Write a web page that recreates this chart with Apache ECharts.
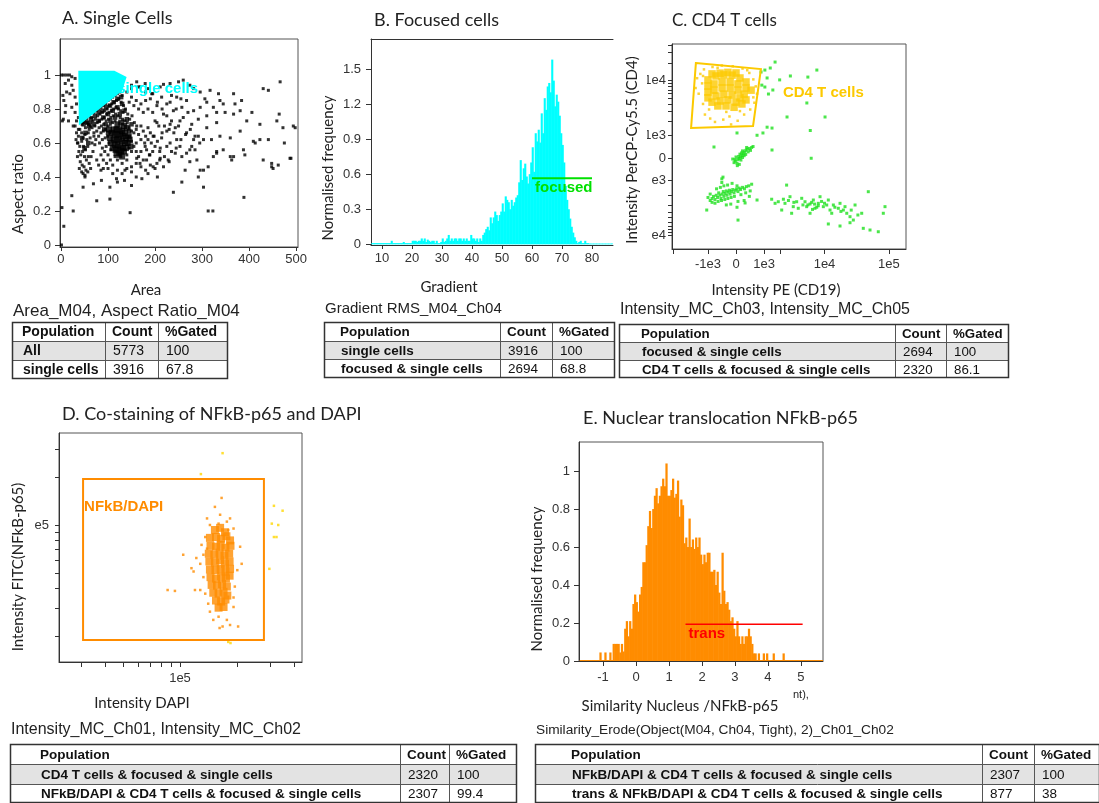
<!DOCTYPE html>
<html>
<head>
<meta charset="utf-8">
<title>Gating strategy – NFkB-p65 nuclear translocation</title>
<script src="https://cdn.jsdelivr.net/npm/echarts@6/dist/echarts.min.js"></script>
<style>
  html, body { margin: 0; padding: 0; background: #fff; }
  #chart { width: 1099px; height: 803px; }
</style>
</head>
<body>
<div id="chart"></div>
<script>
// ---------------- data ----------------

// A. Area vs aspect ratio of all objects
const areaRatio = [
  [1,1.0],[6,1.0],[12,1.0],[18,1.0],[23,0.99],[9,0.95],[16,0.97],[23,0.94],[30,0.98],[12,0.90],[19,0.89],[30,0.87],
  [26,0.91],[33,0.83],[23,0.81],[9,0.78],[30,0.78],[37,0.75],[16,0.73],[33,0.73],[26,0.70],[37,0.68],[5,0.74],[32,0.62],
  [35,0.60],[3,0.73],[6,0.85],[10,0.82],[4,0.88],
  [30,0.70],[33,0.66],[37,0.64],[40,0.68],[44,0.66],[47,0.63],[51,0.65],[55,0.62],[58,0.66],[62,0.63],[36,0.60],[40,0.58],
  [44,0.61],[48,0.58],[52,0.56],[57,0.58],[38,0.55],[42,0.53],[46,0.55],[50,0.52],[54,0.50],[41,0.49],[45,0.47],[49,0.46],
  [53,0.44],[47,0.42],[51,0.40],[57,0.43],[60,0.48],[64,0.52],[68,0.55],[72,0.59],[66,0.60],[70,0.64],[74,0.62],[62,0.70],
  [56,0.72],[48,0.72],[42,0.74],[35,0.52],[39,0.45],[44,0.43],[58,0.52],[63,0.45],[76,0.50],[80,0.47],[85,0.44],[90,0.45],
  [45,0.71],[50,0.73],[55,0.74],[60,0.76],[65,0.75],[70,0.78],[75,0.79],[80,0.80],[85,0.81],[90,0.82],[95,0.83],[100,0.85],
  [105,0.86],[110,0.87],[115,0.88],[120,0.89],[125,0.90],[130,0.88],[52,0.69],[58,0.71],[63,0.72],[68,0.73],[73,0.74],
  [78,0.76],[83,0.77],[88,0.78],[93,0.79],[98,0.80],[103,0.82],[108,0.83],[113,0.84],[118,0.85],[123,0.86],[128,0.84],
  [133,0.82],[60,0.68],[66,0.69],[72,0.70],[77,0.72],[82,0.73],[87,0.74],[92,0.75],[97,0.77],[102,0.78],[107,0.79],
  [112,0.80],[117,0.81],[122,0.80],[127,0.79],[132,0.78],[137,0.80],[142,0.77],[70,0.66],[76,0.67],[81,0.69],[86,0.70],
  [91,0.71],[96,0.73],[101,0.74],[106,0.75],[111,0.76],[116,0.77],[121,0.76],[126,0.75],[131,0.74],[136,0.73],[141,0.72],
  [146,0.74],[151,0.76],[156,0.72],[161,0.70],[80,0.64],[85,0.66],[90,0.67],[95,0.68],[100,0.70],[105,0.71],[110,0.72],
  [115,0.73],[145,0.69],[150,0.67],[155,0.66],[160,0.68],[165,0.65],[170,0.70],[175,0.67],[180,0.64],[185,0.69],[190,0.66],
  [170,0.62],[178,0.60],[185,0.62],[192,0.60],[88,0.62],[94,0.63],[99,0.64],[104,0.66],[96,0.58],[102,0.60],[93,0.55],
  [100,0.53],[106,0.56],[88,0.57],[82,0.60],[85,0.53],[90,0.50],[97,0.48],[105,0.50],[110,0.47],[115,0.52],[120,0.50],
  [125,0.53],[130,0.48],[140,0.53],[145,0.57],[150,0.55],[155,0.58],[160,0.55],[165,0.52],[170,0.55],[175,0.50],[160,0.60],
  [150,0.61],[146,0.64],[182,0.56],[188,0.53],[195,0.55],[200,0.58],[198,0.64],[205,0.61],[210,0.55],[215,0.66],[208,0.70],
  [200,0.73],[195,0.78],[185,0.80],[175,0.78],[165,0.80],[155,0.82],[145,0.84],[150,0.87],[160,0.85],[170,0.83],[180,0.85],
  [190,0.86],[140,0.90],[150,0.92],[165,0.93],[180,0.90],[195,0.89],[205,0.84],[215,0.80],[225,0.76],[235,0.73],[220,0.70],
  [230,0.68],[240,0.66],[250,0.70],[260,0.75],[270,0.78],[245,0.80],[225,0.83],[235,0.88],[255,0.86],[265,0.65],[275,0.68],
  [285,0.64],[295,0.60],[255,0.62],[245,0.57],[235,0.55],[225,0.58],[220,0.52],[230,0.49],[210,0.50],[200,0.45],[190,0.47],
  [180,0.44],[170,0.46],[160,0.48],[150,0.43],[140,0.45],[130,0.42],[120,0.44],[110,0.42],[100,0.45],[120,0.37],[135,0.38],
  [160,0.40],[185,0.42],[205,0.40],
  [466,0.96],[430,0.92],[441,0.91],[464,0.77],[494,0.70],[487,0.51],[448,0.48],[448,0.46],[423,0.62],[409,0.61],[388,0.56],
  [367,0.89],[345,0.83],[367,0.77],[381,0.79],[395,0.73],[381,0.67],[360,0.63],[345,0.56],[331,0.54],[324,0.52],[313,0.46],
  [303,0.44],[296,0.44],[289,0.50],[267,0.54],[274,0.56],[282,0.62],[310,0.69],[303,0.62],[320,0.62],[331,0.72],[338,0.64],
  [349,0.78],[331,0.78],[310,0.84],[306,0.86],[296,0.90],[282,0.92],[274,0.94],[260,0.97],[250,0.96],[232,0.95],[218,0.945],
  [211,0.93],[317,0.91],[335,0.89],[292,0.64],[246,0.62],[232,0.60],[211,0.57],[196,0.64],[179,0.58],[264,0.44],[274,0.49],
  [292,0.40],[303,0.34],[257,0.37],[218,0.46],[196,0.46],[172,0.39],[150,0.35],[136,0.44],[118,0.39],[104,0.34],[86,0.38],
  [69,0.36],[51,0.41],[47,0.34],[472,0.69],[441,0.62],[363,0.50],[367,0.52],[391,0.53],[413,0.60],[423,0.71],[459,0.73],
  [406,0.78],[370,0.83],[384,0.85],[338,0.85],[324,0.81],[310,0.76],[292,0.74],[278,0.71],[267,0.66],[253,0.73],[243,0.69],
  [232,0.71],[225,0.67],[214,0.63],[204,0.72],[218,0.77],[239,0.79],[257,0.81],[267,0.85],[282,0.79],[296,0.81],[246,0.87],
  [232,0.84],[214,0.87],[204,0.82],[193,0.89],[186,0.92],[179,0.95],[168,0.93],[161,0.96],[150,0.94],[243,0.54],[257,0.52],
  [278,0.58],[285,0.56],[253,0.58],[228,0.50],[211,0.51],[204,0.48],[189,0.53],[182,0.50],[168,0.48],[161,0.51],[150,0.46],
  [140,0.50],[489,0.51],[498,0.69],[475,0.60],[462,0.47],[451,0.45],[331,0.55],[360,0.52],[430,0.50],
  [1,0.0],[2,0.22],[6,0.11],[23,0.29],[26,0.20],[76,0.26],[104,0.27],[147,0.19],[313,0.20],[323,0.20],[389,0.28],[239,0.31]
];
// A. crowded band just below the gate edge
const areaRatioBand = [
  [48,0.71],[56,0.72],[64,0.74],[72,0.76],[80,0.78],[88,0.79],[96,0.81],[104,0.82],[112,0.84],[120,0.86],[128,0.87],
  [60,0.70],[70,0.71],[80,0.73],[90,0.75],[100,0.77],[110,0.79],[120,0.81],[130,0.83],[95,0.71],[105,0.73],[115,0.75],
  [125,0.77],[135,0.79],[140,0.74],[150,0.71],[100,0.66],[92,0.68],[145,0.67],[52,0.66],[45,0.63],[58,0.60],[50,0.57]
];
// A. densely packed core of the main population
const areaRatioCore = [
  [112,0.68],[118,0.68],[124,0.68],[130,0.67],[136,0.66],[114,0.65],[120,0.65],[126,0.65],[132,0.64],[138,0.63],[144,0.64],
  [112,0.62],[118,0.62],[124,0.62],[130,0.61],[136,0.60],[142,0.60],[114,0.59],[120,0.59],[126,0.58],[132,0.57],[138,0.57],
  [116,0.56],[122,0.56],[128,0.55],[134,0.55],[120,0.71],[128,0.72],[108,0.66],[106,0.60],[110,0.57],[146,0.62],[140,0.69],
  [148,0.58],[124,0.53],[118,0.54],[130,0.52],[104,0.63],[102,0.68],[134,0.70]
];
const singleCellsGate = [[39,1.02],[113,1.02],[137,0.985],[128,0.91],[40,0.715]];
const areaTicks = [0, 100, 200, 300, 400, 500];
const ratioTicks = [0, 0.2, 0.4, 0.6, 0.8, 1];

// B. Gradient RMS histogram (bin width 0.5, first bin starts at 6.5)
const gradientStart = 6.5;
const gradientBin = 0.5;
const gradientFreq = [
  0.01,
  0.01,0.01, 0.01,0.01, 0.01,0.01, 0.01,0.01, 0.01,0.01, 0.01,0.01, 0.03,0.01, 0.01,0.01, 0.01,0.01, 0.01,0.01,
  0.02,0.01, 0.01,0.01, 0.01,0.01, 0.03,0.03, 0.03,0.02, 0.03,0.03, 0.05,0.03, 0.05,0.02, 0.04,0.03, 0.02,0.03,
  0.03,0.01, 0.03,0.01, 0.01,0.02, 0.05,0.02, 0.03,0.05, 0.08,0.03, 0.05,0.03, 0.05,0.05, 0.03,0.05, 0.05,0.03,
  0.05,0.03, 0.05,0.03, 0.03,0.08, 0.05,0.05, 0.03,0.05, 0.02,0.05, 0.03,0.08, 0.10,0.13, 0.15,0.12, 0.23,0.18,
  0.23,0.28, 0.25,0.20, 0.25,0.28, 0.35,0.28, 0.41,0.38, 0.36,0.30, 0.38,0.33, 0.36,0.40, 0.42,0.53, 0.72,0.55,
  0.65,0.69, 0.58,0.52, 0.60,0.70, 0.83,0.62, 0.95,0.88, 0.98,0.87, 1.12,0.95, 1.25,1.15, 1.35,1.38, 1.30,1.58,
  1.40,1.18, 1.28,1.22, 1.10,0.95, 0.85,0.70, 0.50,0.38, 0.30,0.22, 0.15,0.10, 0.06,0.03, 0.01,0.02, 0.03,0.01,
  0.01,0.03, 0.01,0.01,
  0.006,0.006,0.006,0.006,0.006,0.006,0.006,0.006,0.006,0.006,0.006,0.006,0.006,0.006,0.006,0.006
];
const focusedGate = { from: 60, to: 80, level: 0.565 };
const gradientTicks = [10, 20, 30, 40, 50, 60, 70, 80];
const freqTicksB = [0, 0.3, 0.6, 0.9, 1.2, 1.5];

// C. PE (CD19) vs PerCP-Cy5.5 (CD4) intensities
const cd4Core = [
  [-1000,10300],[-660,12000],[-380,12500],[-120,12400],[120,11100],[310,9500],
  [-1000,8100],[-740,8800],[-440,9500],[-180,9500],[60,8800],[310,7500],[480,6900],
  [-1000,6400],[-740,6900],[-440,7500],[-180,7500],[60,6900],[250,5900],
  [-1000,5100],[-660,5500],[-380,5900],[-120,5700],[120,5100],[310,4700],
  [-820,4300],[-510,4500],[-250,4700],[0,4300],[180,4000],
  [-590,3700],[-310,3700],[-60,3500],
  [-510,13400],[-250,13800],[0,13500],[-820,13000]
];
const cd4Sparse = [
  [-1400,13000],[-1300,9000],[-1500,6000],[-1250,4000],[-1150,2600],[-900,2200],[-700,1900],[-400,2100],[-200,2400],
  [50,2000],[250,2600],[450,3200],[600,4200],[700,6000],[650,8000],[560,10500],[420,13500],[200,16000],[-100,17500],
  [-450,18000],[-800,17000],[-1200,15500],[-1600,11000],[-1700,7500],[-300,2900],[-150,1700],[120,3000],[-950,3200],
  [350,15000],[-1250,12000],[560,5200],[-600,16500]
];
const otherCells = [
  [-60,-180],[-20,-120],[30,-200],[60,-60],[100,-20],[140,40],[180,100],[220,160],[260,230],[300,300],[350,350],[420,380],
  [500,420],[80,60],[150,-80],[200,20],[250,90],[120,150],[0,40],[-100,-40],[40,-300],[300,140],[380,240],[200,280],
  [100,-250],[-30,-60],[170,200],[330,420],[460,300],[550,460],
  [30,1130],[700,1000],[950,1130],[-740,440],[1420,315],[1150,1500],[1420,1440],[6000,1280],[2560,2350],[10200,2350],
  [5300,4160],[6200,-10],[1610,20600],[1320,16350],[1040,15100],[1150,11100],[900,8400],[1040,7800],[1930,10300],
  [2900,12000],[5500,11500],[7600,15100],[866,14000],[1220,5930],[1470,6940],
  [-900,-2500],[-820,-2300],[-760,-2100],[-700,-2400],[-650,-2000],[-600,-2200],[-560,-1800],[-520,-2000],[-480,-2300],
  [-440,-1900],[-400,-1700],[-380,-2100],[-340,-1850],[-300,-1650],[-280,-2000],[-240,-1750],[-200,-1600],[-180,-1900],
  [-140,-1700],[-100,-1550],[-60,-1800],[-20,-1600],[20,-1500],[60,-1700],[100,-1450],[140,-1550],[200,-1400],[260,-1500],
  [320,-1350],[400,-1300],[-820,-2700],[-700,-2800],[-580,-2600],[-460,-2500],[-350,-2400],[-250,-2300],[-150,-2200],
  [-50,-2100],[-640,-1500],[-500,-1400],[-380,-1300],[-260,-1250],[-120,-1150],[30,-1300],[150,-1950],[300,-1800],
  [450,-1650],[-900,-1900],[-1000,-2200],[-300,-3000],[-160,-2900],[60,-2600],[250,-2500],[420,-2100],[500,-1200],
  [-450,-1100],[-1060,-3690],[-410,-810],[61,-5500],[700,-2450],[280,-2770],[30,-3300],[-450,-900],
  [1400,-2370],[1610,-2810],[2230,-2370],[2370,-2810],[2860,-2130],[3230,-3220],[3660,-2630],[4400,-2280],[4960,-2630],
  [5270,-3220],[5950,-2890],[6700,-2450],[7110,-3440],[8010,-2810],[8520,-2130],[9590,-3220],[11470,-2450],[12190,-3690],
  [13730,-3010],[16410,-3440],[17430,-2810],[19630,-3690],[20830,-3220],[22180,-4200],[24920,-4810],[29830,-3010],
  [37830,-4200],[47900,-1710],[81840,-4200],[86940,-3220],[40040,-7600],[50920,-8120],[68440,-8680],[17430,-6940],
  [11470,-6410],[2520,-1254],[3040,-4200],[2090,-3690],[5950,-4200],[12960,-4200],[24920,-6100],[28050,-5490],
  [10830,-3010],[7570,-3300],[3880,-3440],[1830,-2630],[5500,-3000],[6300,-2700],[7000,-2900],[8000,-3100],[9000,-2600],
  [4600,-3000],[3300,-2700],[14500,-3300],[10000,-2800],[6500,-3600],[2700,-2500],[18000,-3900],[33000,-4500],[26000,-3700]
];
const cd4Gate = [[-1680,19800],[860,15700],[550,1590],[-2030,1440]];
const peLabelValues = [-1e3, 0, 1e3, 1e4, 1e5];
const peLabelText = ['-1e3', '0', '1e3', '1e4', '1e5'];
const peTickValues = [-4e3, -1e3, 0, 1e3, 2e3, 1e4, 1e5];
const cd4LabelValues = [1e4, 1e3, 0, -1e3, -1e4];
const cd4LabelText = ['1e4', '1e3', '0', '-1e3', '-1e4'];
const cd4TickValues = [
  4e4, 3e4, 2e4, 1e4, 9e3, 8e3, 7e3, 6e3, 5e3, 4e3, 3e3, 2e3, 1e3, 0,
  -1e3, -2e3, -3e3, -4e3, -5e3, -6e3, -7e3, -8e3, -9e3, -1e4, -2e4, -3e4
];

// D. DAPI vs FITC (NFkB-p65) intensities
const nfkbCore = [
  [1.53e5,9.3e4],[1.63e5,9.6e4],[1.73e5,9.0e4],
  [1.44e5,8.3e4],[1.55e5,8.4e4],[1.65e5,8.2e4],[1.76e5,8.5e4],[1.84e5,8.0e4],
  [1.45e5,7.4e4],[1.55e5,7.3e4],[1.64e5,7.5e4],[1.74e5,7.2e4],[1.85e5,7.4e4],
  [1.42e5,6.6e4],[1.52e5,6.5e4],[1.62e5,6.7e4],[1.72e5,6.4e4],[1.82e5,6.6e4],
  [1.43e5,5.9e4],[1.53e5,5.8e4],[1.63e5,6.0e4],[1.73e5,5.7e4],[1.83e5,5.9e4],
  [1.44e5,5.25e4],[1.54e5,5.2e4],[1.64e5,5.3e4],[1.74e5,5.1e4],[1.84e5,5.3e4],
  [1.45e5,4.7e4],[1.55e5,4.6e4],[1.65e5,4.75e4],[1.75e5,4.6e4],[1.83e5,4.8e4],
  [1.47e5,4.2e4],[1.57e5,4.15e4],[1.67e5,4.25e4],[1.77e5,4.1e4],
  [1.50e5,3.75e4],[1.60e5,3.7e4],[1.70e5,3.8e4],[1.78e5,3.6e4],
  [1.55e5,3.35e4],[1.65e5,3.3e4],[1.74e5,3.4e4],
  [1.60e5,3.02e4],[1.70e5,3.05e4]
];
const nfkbSparse = [
  [1.66e5,1.48e5],[1.53e5,1.3e5],[1.63e5,1.16e5],[1.84e5,1.1e5],[1.77e5,1.05e5],[1.39e5,1.1e5],[1.44e5,1.0e5],
  [1.36e5,8.4e4],[1.30e5,7.5e4],[2.08e5,7.3e4],[2.12e5,5.7e4],[2.01e5,5.2e4],[1.95e5,4.1e4],[1.04e5,6.5e4],
  [1.15e5,5.35e4],[1.18e5,5.1e4],[1.20e5,3.9e4],[1.28e5,3.9e4],[8.6e4,3.9e4],[9.4e4,3.85e4],[1.33e5,4.7e4],
  [1.28e5,5.7e4],[1.44e5,2.85e4],[1.60e5,2.65e4],[1.62e5,2.25e4],[1.68e5,2.3e4],[1.84e5,2.35e4],[2.03e5,2.3e4],
  [1.77e5,2.53e4],[1.50e5,2.53e4],[1.92e5,3.05e4],[1.92e5,3.5e4],[1.41e5,3.2e4],[1.36e5,3.7e4],[1.39e5,7.1e4],
  [1.92e5,9.5e4],[1.60e5,1.02e5],[1.80e5,9.3e4],[1.22e5,6.2e4],[1.33e5,6.5e4]
];
const outsideNfkbGate = [
  [1.68e5,2.83e5],[1.29e5,2.09e5],[3.14e5,1.32e5],[3.49e5,1.23e5],[3.06e5,1.02e5],[3.31e5,1.0e5],[3.14e5,8.4e4],
  [3.24e5,8.4e4],[2.97e5,5.3e4],[1.80e5,1.84e4],[1.85e5,1.81e4]
];
const nfkbGate = [[3.07e4,1.89e4],[2.78e5,1.95e5]];
const dapiTickValues = [3e4, 4e4, 5e4, 6e4, 7e4, 8e4, 9e4, 1e5, 2e5, 3e5, 4e5];
const fitcTickValues = [2e4, 3e4, 4e4, 5e4, 6e4, 7e4, 8e4, 9e4, 1e5, 2e5, 3e5];
const logLabelValues = [1e5];

// E. Similarity score histogram (bin width 0.05, first bin starts at -1.70)
const similarityStart = -1.70;
const similarityBin = 0.05;
const similarityFreq = [
  0.005,0.005,0.005,0.005,0.005,0.005,0.005,0.005,0.005,0.005,
  0.005,0.005,0.045,0.005,0.005,0.045,0.005,0.005,0.045,0.005,
  0.09,0.09,0.09,0.09,0.045,0.09,0.05,0.17,0.21,0.13,
  0.21,0.17,0.30,0.35,0.31,0.26,0.35,0.39,0.52,0.52,
  0.61,0.71,0.79,0.70,0.80,0.87,0.91,0.83,0.87,0.92,
  0.96,0.92,1.04,0.87,0.87,0.90,0.96,0.86,0.88,0.95,
  0.76,0.85,0.82,0.62,0.65,0.60,0.75,0.60,0.64,0.59,
  0.65,0.60,0.65,0.56,0.51,0.56,0.52,0.57,0.57,0.47,
  0.47,0.48,0.40,0.47,0.36,0.30,0.57,0.37,0.30,0.31,
  0.27,0.21,0.23,0.17,0.13,0.21,0.13,0.09,0.13,0.09,
  0.13,0.13,0.17,0.13,0.09,0.04,0.04,0.005,0.04,0.005,
  0.005,0.04,0.005,0.04,0.005,0.005,0.005,0.04,0.005,0.005,
  0.005,0.005,0.005,0.04,0.005,0.005,0.005,0.005,0.005,0.005,
  0.005,0.005,0.005,0.005,0.005,0.005,0.005,0.005,0.005,0.005,
  0.005,0.005,0.005,0.005,0.005,0.005,0.005,0.005
];
const transGate = { from: 1.5, to: 5.05, level: 0.193 };
const similarityTicks = [-1, 0, 1, 2, 3, 4, 5];
const freqTicksE = [0, 0.2, 0.4, 0.6, 0.8, 1];

// Population statistics tables
const tableHeader = ['Population', 'Count', '%Gated'];
const statsA_title = 'Area_M04, Aspect Ratio_M04';
const statsA_rows = [['All', '5773', '100'], ['single cells', '3916', '67.8']];
const statsB_title = 'Gradient RMS_M04_Ch04';
const statsB_rows = [['single cells', '3916', '100'], ['focused & single cells', '2694', '68.8']];
const statsC_title = 'Intensity_MC_Ch03, Intensity_MC_Ch05';
const statsC_rows = [['focused & single cells', '2694', '100'], ['CD4 T cells & focused & single cells', '2320', '86.1']];
const statsD_title = 'Intensity_MC_Ch01, Intensity_MC_Ch02';
const statsD_rows = [['CD4 T cells & focused & single cells', '2320', '100'],
                     ['NFkB/DAPI & CD4 T cells & focused & single cells', '2307', '99.4']];
const statsE_title = 'Similarity_Erode(Object(M04, Ch04, Tight), 2)_Ch01_Ch02';
const statsE_rows = [['NFkB/DAPI & CD4 T cells & focused & single cells', '2307', '100'],
                     ['trans & NFkB/DAPI & CD4 T cells & focused & single cells', '877', '38']];

// ---------------- helpers ----------------
const TICK_FONT = 'Liberation Sans';
const TEXT_FONT = 'Lato';
const cx = v => Math.asinh(v / 850);   // biexponential-like display scale, PE
const cy = v => Math.asinh(v / 1000);  // biexponential-like display scale, PerCP-Cy5.5
const lg = v => Math.log10(v);

function labelLookup(values, texts, fn) {
  return function (val) {
    for (let i = 0; i < values.length; i++) {
      if (Math.abs(fn(values[i]) - val) < 1e-6) return texts[i];
    }
    return '';
  };
}

function valueAxis(grid, position, min, max, labelVals, tickVals, margin, formatter, tickLen) {
  return {
    type: 'value', gridIndex: grid, position, min, max,
    axisLine: { show: true, onZero: false, lineStyle: { color: '#333', width: 1 } },
    axisTick: { show: true, inside: false, length: tickLen || 4, customValues: tickVals,
                lineStyle: { color: '#333', width: 1 } },
    axisLabel: { show: true, customValues: labelVals, formatter, margin,
                 color: '#333', fontSize: 13, fontFamily: TICK_FONT },
    splitLine: { show: false }
  };
}

function histogramSeries(axisIdx, start, width, values, color) {
  const data = values.map((v, i) => [start + i * width, start + (i + 1) * width, v]);
  return {
    type: 'custom', xAxisIndex: axisIdx, yAxisIndex: axisIdx, data, clip: true, silent: true,
    encode: { x: [0, 1], y: 2 },
    renderItem(params, api) {
      const p0 = api.coord([api.value(0), 0]);
      const p1 = api.coord([api.value(1), api.value(2)]);
      // slight overlap keeps neighbouring bins from showing hairline seams
      return { type: 'rect',
               shape: { x: p0[0] - 0.3, y: p1[1], width: p1[0] - p0[0] + 0.6, height: p0[1] - p1[1] },
               style: { fill: color } };
    }
  };
}

function scatterSeries(axisIdx, data, color, size) {
  return { type: 'scatter', xAxisIndex: axisIdx, yAxisIndex: axisIdx, data, symbol: 'rect',
           symbolSize: size, itemStyle: { color }, silent: true };
}

function lineGateSeries(axisIdx, gate, color, width, text, fontSize) {
  return {
    type: 'custom', xAxisIndex: axisIdx, yAxisIndex: axisIdx, data: [[gate.from, gate.level]],
    clip: true, silent: true, z: 5,
    renderItem(params, api) {
      const a = api.coord([gate.from, gate.level]);
      const b = api.coord([gate.to, gate.level]);
      return { type: 'group', children: [
        { type: 'line', shape: { x1: a[0], y1: a[1], x2: b[0], y2: b[1] },
          style: { stroke: color, lineWidth: width } },
        { type: 'text', x: a[0] + 3, y: a[1] + 10,
          style: { text, fill: color, font: 'bold ' + fontSize + 'px "' + TICK_FONT + '"',
                   align: 'left', verticalAlign: 'middle' } }
      ] };
    }
  };
}

// ---------------- layout ----------------
const grids = [
  { left: 60,  top: 39,  width: 238, height: 208 },   // A
  { left: 371, top: 39,  width: 242, height: 206 },   // B
  { left: 672, top: 44,  width: 234, height: 205 },   // C
  { left: 59,  top: 433, width: 243, height: 229 },   // D
  { left: 579, top: 442, width: 244, height: 219 }    // E
].map((g, i) => Object.assign(g, {
  show: i !== 1, borderColor: '#555', borderWidth: 1, containLabel: false, outerBoundsMode: 'none'
}));

const xAxes = [
  valueAxis(0, 'bottom', -2.1, 504, areaTicks, areaTicks, 6),
  valueAxis(1, 'bottom', 6.33, 87, gradientTicks, gradientTicks, 7),
  valueAxis(2, 'bottom', -2.286, 6.071, peLabelValues.map(cx), peTickValues.map(cx), 9,
            labelLookup(peLabelValues, peLabelText, cx), 5),
  valueAxis(3, 'bottom', 4.3598, 5.6455, logLabelValues.map(lg), dapiTickValues.map(lg), 10,
            labelLookup(logLabelValues, ['1e5'], lg), 5),
  valueAxis(4, 'bottom', -1.727, 5.667, similarityTicks, similarityTicks, 10, undefined, 5),
  // top frame line of panel B
  { type: 'value', gridIndex: 1, position: 'top', min: 6.33, max: 87,
    axisLine: { show: true, onZero: false, lineStyle: { color: '#333' } },
    axisTick: { show: false }, axisLabel: { show: false }, splitLine: { show: false } }
];
const yAxes = [
  valueAxis(0, 'left', -0.012, 1.212, ratioTicks, ratioTicks, 9, undefined, 5),
  valueAxis(1, 'left', -0.006, 1.756, freqTicksB, freqTicksB, 10, undefined, 5),
  valueAxis(2, 'left', -3.527, 4.419, cd4LabelValues.map(cy), cd4TickValues.map(cy), 6,
            labelLookup(cd4LabelValues, cd4LabelText, cy), 4),
  valueAxis(3, 'left', 4.1384, 5.5786, logLabelValues.map(lg), fitcTickValues.map(lg), 10,
            labelLookup(logLabelValues, ['1e5'], lg), 4),
  valueAxis(4, 'left', 0, 1.153, freqTicksE, freqTicksE, 9, undefined, 5)
];

// ---------------- series ----------------
const series = [
  // A
  scatterSeries(0, areaRatio, '#000', 3),
  scatterSeries(0, areaRatioBand, '#000', 4.5),
  scatterSeries(0, areaRatioCore, '#000', 6),
  {
    type: 'custom', xAxisIndex: 0, yAxisIndex: 0, data: [singleCellsGate[0]], clip: true, silent: true, z: 5,
    renderItem(params, api) {
      const pts = singleCellsGate.map(v => api.coord(v));
      const anchor = pts[3];
      return { type: 'group', children: [
        { type: 'polygon', shape: { points: pts }, style: { fill: '#00ffff', stroke: '#00ffff', lineWidth: 2 } },
        { type: 'text', x: anchor[0] - 4, y: anchor[1] - 1,
          style: { text: 'single cells', fill: '#00ffff', font: 'bold 15px "' + TICK_FONT + '"',
                   align: 'left', verticalAlign: 'middle' } }
      ] };
    }
  },
  // B
  histogramSeries(1, gradientStart, gradientBin, gradientFreq, '#00ffff'),
  lineGateSeries(1, focusedGate, '#00e000', 2, 'focused', 15),
  // C
  scatterSeries(2, otherCells.map(p => [cx(p[0]), cy(p[1])]), '#1ee01e', 3),
  scatterSeries(2, cd4Sparse.map(p => [cx(p[0]), cy(p[1])]), '#fcc900', 2.5),
  scatterSeries(2, cd4Core.map(p => [cx(p[0]), cy(p[1])]), '#fcc900', 7.5),
  {
    type: 'custom', xAxisIndex: 2, yAxisIndex: 2, data: [[cx(cd4Gate[0][0]), cy(cd4Gate[0][1])]],
    clip: true, silent: true, z: 5,
    renderItem(params, api) {
      const pts = cd4Gate.map(v => api.coord([cx(v[0]), cy(v[1])]));
      const anchor = pts[1];
      return { type: 'group', children: [
        { type: 'polygon', shape: { points: pts }, style: { fill: null, stroke: '#fcc900', lineWidth: 2 } },
        { type: 'text', x: anchor[0] + 22, y: anchor[1] + 24,
          style: { text: 'CD4 T cells', fill: '#fcc900', font: 'bold 15px "' + TICK_FONT + '"',
                   align: 'left', verticalAlign: 'middle' } }
      ] };
    }
  },
  // D
  scatterSeries(3, nfkbSparse.map(p => [lg(p[0]), lg(p[1])]), '#ff8c00', 2.5),
  scatterSeries(3, nfkbCore.map(p => [lg(p[0]), lg(p[1])]), '#ff8c00', 8),
  scatterSeries(3, outsideNfkbGate.map(p => [lg(p[0]), lg(p[1])]), '#ffd700', 2.5),
  {
    type: 'custom', xAxisIndex: 3, yAxisIndex: 3, data: [[lg(nfkbGate[0][0]), lg(nfkbGate[0][1])]],
    clip: true, silent: true, z: 5,
    renderItem(params, api) {
      const p0 = api.coord([lg(nfkbGate[0][0]), lg(nfkbGate[0][1])]);
      const p1 = api.coord([lg(nfkbGate[1][0]), lg(nfkbGate[1][1])]);
      return { type: 'group', children: [
        { type: 'rect', shape: { x: p0[0], y: p1[1], width: p1[0] - p0[0], height: p0[1] - p1[1] },
          style: { fill: null, stroke: '#ff8c00', lineWidth: 2 } },
        { type: 'text', x: p0[0] + 1, y: p1[1] + 28,
          style: { text: 'NFkB/DAPI', fill: '#ff8c00', font: 'bold 15px "' + TICK_FONT + '"',
                   align: 'left', verticalAlign: 'middle' } }
      ] };
    }
  },
  // E
  histogramSeries(4, similarityStart, similarityBin, similarityFreq, '#ff8c00'),
  lineGateSeries(4, transGate, '#ff0000', 1.5, 'trans', 15)
];

// ---------------- text, tables ----------------
const graphics = [];
function addText(x, y, text, font, opts) {
  opts = opts || {};
  graphics.push({
    type: 'text', x, y, rotation: opts.rotation || 0, z: opts.z || 10, silent: true,
    style: { text, x: 0, y: 0, font, fill: opts.fill || '#222',
             align: opts.align || 'left', verticalAlign: 'middle',
             textAlign: opts.align || 'left', textVerticalAlign: 'middle' }
  });
}

// panel titles
const titleFont = size => size + 'px "' + TEXT_FONT + '"';
addText(62, 18, 'A. Single Cells', titleFont(18));
addText(374, 20, 'B. Focused cells', titleFont(18));
addText(672, 21, 'C. CD4 T cells', titleFont(17));
addText(62, 414, 'D. Co-staining of NFkB-p65 and DAPI', titleFont(18));
addText(583, 418, 'E. Nuclear translocation NFkB-p65', titleFont(18));

// axis names
const NAME_FONT = '15px "' + TEXT_FONT + '"';
const UP = Math.PI / 2;
addText(146, 290, 'Area', NAME_FONT, { align: 'center' });
addText(18, 194, 'Aspect ratio', NAME_FONT, { align: 'center', rotation: UP });
addText(449, 287, 'Gradient', NAME_FONT, { align: 'center' });
addText(328, 168, 'Normalised frequency', NAME_FONT, { align: 'center', rotation: UP });
addText(776, 290, 'Intensity PE (CD19)', NAME_FONT, { align: 'center' });
addText(142, 703, 'Intensity DAPI', NAME_FONT, { align: 'center' });
addText(680, 706, 'Similarity Nucleus /NFkB-p65', NAME_FONT, { align: 'center' });
addText(537, 579, 'Normalised frequency', NAME_FONT, { align: 'center', rotation: UP });
addText(793, 695, 'nt),', '11px "' + TICK_FONT + '"');

// the leading characters of a few tick labels sit under the panel edge
function cover(x, y, w, h) {
  graphics.push({ type: 'rect', z: 50, silent: true, shape: { x, y, width: w, height: h },
                  style: { fill: '#fff' } });
}
cover(636, 73, 11, 16);
cover(636, 127, 11, 16);
cover(636, 174, 15, 16);
cover(636, 227, 15, 16);
cover(22, 518, 13, 16);
addText(632, 150, 'Intensity PerCP-Cy5.5 (CD4)', NAME_FONT, { align: 'center', rotation: UP, z: 60 });
addText(18, 567, 'Intensity FITC(NFkB-p65)', NAME_FONT, { align: 'center', rotation: UP, z: 60 });

// statistics tables
const tables = [
  { title: statsA_title, rows: statsA_rows, cols: [12, 105, 158, 228], ys: [322, 341, 360, 379],
    titleY: 311, pad: 10, titleSize: 17, cellSize: 14 },
  { title: statsB_title, rows: statsB_rows, cols: [324, 500, 552, 615], ys: [322, 341, 359, 378],
    titleY: 309, pad: 16, titleSize: 15, cellSize: 13.5 },
  { title: statsC_title, rows: statsC_rows, cols: [619, 895, 946, 1009], ys: [324, 342, 360, 378],
    titleY: 310, pad: 22, titleSize: 16, cellSize: 13.3 },
  { title: statsD_title, rows: statsD_rows, cols: [10, 400, 449, 517], ys: [744, 764, 784, 803],
    titleY: 730, pad: 30, titleSize: 16, cellSize: 13.5 },
  { title: statsE_title, rows: statsE_rows, cols: [535, 982, 1034, 1100], ys: [744, 764, 784, 803],
    titleY: 730, pad: 36, titleSize: 13.7, cellSize: 13.5 }
];
tables.forEach(t => {
  const [c0, c1, c2, c3] = t.cols;
  const ys = t.ys;
  const regular = t.cellSize + 'px "' + TICK_FONT + '"';
  const bold = 'bold ' + regular;
  addText(c0 + 1, t.titleY, t.title, t.titleSize + 'px "' + TICK_FONT + '"');
  graphics.push({ type: 'rect', z: 5, silent: true,
    shape: { x: c0, y: ys[1], width: c3 - c0, height: ys[2] - ys[1] }, style: { fill: '#e3e3e3' } });
  [ys[1], ys[2]].forEach(y => graphics.push({ type: 'line', z: 6, silent: true,
    shape: { x1: c0, y1: y + 0.5, x2: c3, y2: y + 0.5 }, style: { stroke: '#555', lineWidth: 1 } }));
  [c1, c2].forEach(x => graphics.push({ type: 'line', z: 6, silent: true,
    shape: { x1: x + 0.5, y1: ys[0], x2: x + 0.5, y2: ys[3] }, style: { stroke: '#555', lineWidth: 1 } }));
  graphics.push({ type: 'rect', z: 6, silent: true,
    shape: { x: c0 + 0.5, y: ys[0] + 0.5, width: c3 - c0 - 1, height: ys[3] - ys[0] - 1 },
    style: { fill: null, stroke: '#333', lineWidth: 1.5 } });
  const hy = (ys[0] + ys[1]) / 2 + 1;
  addText(c0 + t.pad, hy, tableHeader[0], bold, { fill: '#111' });
  addText(c1 + 7, hy, tableHeader[1], bold, { fill: '#111' });
  addText(c2 + 7, hy, tableHeader[2], bold, { fill: '#111' });
  t.rows.forEach((r, i) => {
    const y = (ys[i + 1] + ys[i + 2]) / 2 + 1;
    addText(c0 + t.pad + 1, y, r[0], bold, { fill: '#111' });
    addText(c1 + 8, y, r[1], regular, { fill: '#111' });
    addText(c2 + 8, y, r[2], regular, { fill: '#111' });
  });
});

// ---------------- render ----------------
const chart = echarts.init(document.getElementById('chart'), null, { renderer: 'canvas' });
chart.setOption({
  animation: false,
  backgroundColor: '#fff',
  grid: grids,
  xAxis: xAxes,
  yAxis: yAxes,
  series,
  graphic: { elements: graphics }
});
</script>
</body>
</html>
